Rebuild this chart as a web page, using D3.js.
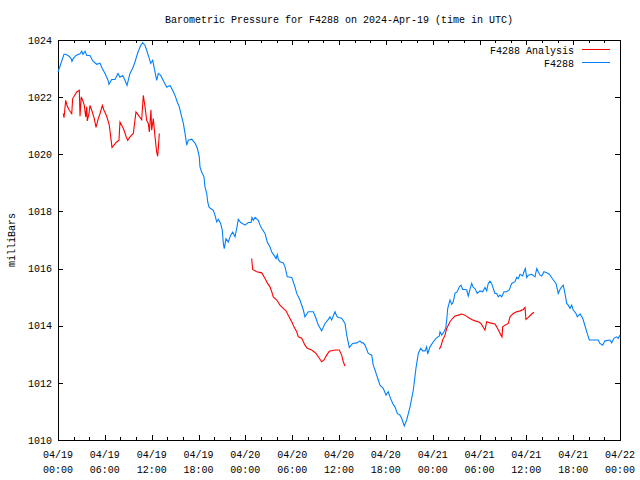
<!DOCTYPE html>
<html><head><meta charset="utf-8">
<script src="https://cdn.jsdelivr.net/npm/d3@7"></script>
<style>
body{margin:0;background:#fff;}
svg{display:block;}
text{font-family:"Liberation Mono","DejaVu Sans Mono",monospace;font-size:10px;fill:#000;}
</style></head>
<body>
<script>
// ---- data (hours after 2024-04-19 00:00 UTC, pressure in mb) ----
const titleText = "Barometric Pressure for F4288 on 2024-Apr-19 (time in UTC)";
const yLabel = "milliBars";
const seriesNames = ["F4288 Analysis", "F4288"];
const yTicks = [1010, 1012, 1014, 1016, 1018, 1020, 1022, 1024];

const stationHours = [0.0,0.77,1.02,1.41,1.67,1.79,1.96,2.31,2.82,3.04,3.20,3.46,3.68,4.10,4.48,4.96,5.38,5.60,6.02,6.41,6.53,6.88,7.30,7.69,7.94,8.29,8.58,8.84,9.22,9.57,9.86,10.25,10.59,10.85,11.15,11.36,11.70,11.88,12.13,12.43,12.64,12.85,13.16,13.58,13.93,14.35,14.69,14.99,15.28,15.54,15.85,16.05,16.27,16.49,16.69,17.13,17.55,17.85,18.10,18.19,18.41,18.70,18.83,19.05,19.18,19.34,19.56,19.90,20.11,20.33,20.54,20.84,21.05,21.18,21.30,21.52,21.82,22.12,22.38,22.68,22.89,23.10,23.41,23.96,24.38,24.73,24.85,25.02,25.24,25.66,25.88,26.10,26.52,26.81,27.16,27.38,27.67,27.93,28.09,28.22,28.44,28.86,29.08,29.38,29.94,30.14,30.36,30.58,31.00,31.43,31.64,32.07,32.71,33.05,33.35,33.78,34.21,34.63,34.85,35.06,35.49,35.70,35.91,36.34,36.77,36.99,37.32,37.75,38.27,38.69,38.91,39.11,39.33,39.75,40.19,40.39,40.61,40.83,41.03,41.25,41.67,42.02,42.31,42.53,42.88,43.17,43.47,43.81,44.03,44.36,44.67,45.10,45.52,45.86,46.16,46.47,46.72,47.02,47.23,47.36,47.66,48.08,48.43,48.85,48.94,49.16,49.45,49.67,49.80,49.93,50.22,50.44,50.64,50.86,51.15,51.41,51.63,51.84,52.14,52.36,52.56,52.78,53.00,53.20,53.42,53.71,54.06,54.41,54.70,54.92,55.12,55.34,55.56,55.77,55.98,56.20,56.41,56.62,56.84,57.14,57.48,57.82,58.12,58.55,58.76,58.97,59.19,59.53,59.70,59.87,60.05,60.25,60.69,61.11,61.33,61.53,61.75,61.97,62.26,62.61,62.94,63.46,63.80,64.09,64.31,64.53,64.73,64.95,65.17,65.37,65.59,65.81,66.01,66.36,66.53,66.88,67.22,67.52,67.73,68.07,68.37,69.22,69.43,69.78,70.07,70.71,70.93,71.22,71.57,71.77,72.00];
const stationPressure = [1022.88,1023.50,1023.50,1023.43,1023.36,1023.25,1023.36,1023.46,1023.52,1023.61,1023.50,1023.61,1023.46,1023.46,1023.26,1023.15,1023.19,1023.05,1022.83,1022.59,1022.45,1022.62,1022.62,1022.83,1022.70,1022.76,1022.59,1022.41,1022.83,1023.01,1023.23,1023.58,1023.81,1023.91,1023.81,1023.64,1023.35,1023.18,1023.29,1022.88,1022.59,1022.83,1022.76,1022.53,1022.35,1022.41,1022.24,1022.06,1021.83,1021.66,1021.31,1021.09,1020.74,1020.32,1020.49,1020.53,1020.39,1020.21,1019.91,1019.56,1019.38,1019.21,1018.86,1018.63,1018.33,1018.16,1018.10,1018.04,1017.87,1017.63,1017.72,1017.58,1017.34,1016.88,1016.70,1017.05,1016.93,1017.17,1017.28,1017.11,1017.40,1017.72,1017.61,1017.52,1017.61,1017.61,1017.79,1017.69,1017.79,1017.69,1017.52,1017.40,1017.23,1016.93,1016.76,1016.58,1016.47,1016.35,1016.49,1016.32,1016.24,1016.20,1016.06,1015.71,1015.69,1015.54,1015.36,1015.13,1014.90,1014.55,1014.31,1014.49,1014.49,1014.26,1014.02,1013.82,1014.08,1014.22,1014.31,1014.20,1014.49,1014.34,1014.29,1014.26,1014.08,1013.67,1013.24,1013.38,1013.40,1013.47,1013.40,1013.40,1013.32,1013.03,1012.97,1012.62,1012.45,1012.27,1012.10,1011.92,1011.81,1011.57,1011.69,1011.51,1011.28,1011.16,1010.93,1010.87,1010.76,1010.49,1010.70,1011.16,1011.75,1012.51,1013.03,1013.21,1013.12,1013.12,1013.26,1013.01,1013.26,1013.44,1013.56,1013.64,1013.79,1013.67,1013.79,1013.91,1014.20,1014.61,1014.90,1014.75,1014.84,1015.13,1015.19,1015.36,1015.42,1015.27,1015.27,1015.25,1015.04,1015.27,1015.48,1015.34,1015.30,1015.13,1015.22,1015.19,1015.34,1015.22,1015.48,1015.56,1015.48,1015.30,1015.13,1015.13,1015.01,1015.07,1015.01,1015.19,1015.19,1015.25,1015.48,1015.54,1015.69,1015.65,1015.80,1015.74,1015.89,1016.00,1015.69,1015.77,1015.80,1015.71,1016.00,1015.89,1015.77,1015.74,1015.89,1015.85,1015.80,1015.60,1015.48,1015.13,1015.27,1015.36,1015.42,1015.13,1014.78,1014.72,1014.61,1014.72,1014.55,1014.43,1014.31,1014.41,1014.26,1013.99,1013.79,1013.50,1013.50,1013.50,1013.38,1013.32,1013.47,1013.50,1013.40,1013.56,1013.61,1013.56,1013.67];

// analysis: null marks a gap between runs
const analysisHours = [0.68,0.77,0.99,1.19,1.45,1.76,1.88,2.09,2.40,2.73,2.82,2.98,3.16,3.37,3.55,3.68,3.75,3.97,4.10,4.32,4.65,4.87,5.16,5.38,5.68,5.89,6.24,6.57,6.75,6.92,7.17,7.52,7.81,7.94,8.16,8.46,8.71,8.93,9.22,9.65,9.99,10.29,10.72,10.93,11.15,11.36,11.57,11.70,11.91,12.00,12.21,12.43,12.64,12.77,12.85,12.98,
  null,
  24.81,24.94,25.46,26.10,26.52,26.81,27.16,27.38,27.58,28.02,28.44,28.86,29.21,29.50,29.94,30.23,30.58,30.79,31.22,31.64,31.94,32.50,33.05,33.48,33.78,34.08,34.42,34.76,35.49,36.04,36.34,36.55,36.77,
  null,
  48.85,49.03,49.28,49.58,49.80,50.00,50.22,50.56,50.86,51.28,51.72,52.14,52.56,53.00,53.42,53.85,54.19,54.49,54.70,54.92,55.34,55.98,56.20,56.53,56.75,56.88,56.97,57.27,57.69,57.91,58.33,58.76,59.19,59.61,59.83,59.95,60.25,60.69,60.98];
const analysisPressure = [1021.42,1021.28,1021.89,1021.68,1021.54,1021.42,1021.95,1022.04,1022.18,1022.24,1021.33,1022.01,1021.89,1021.71,1021.31,1021.66,1021.17,1021.42,1021.71,1021.54,1021.25,1020.94,1021.25,1021.42,1021.71,1021.54,1021.33,1021.02,1020.61,1020.24,1020.32,1020.43,1020.49,1021.13,1021.02,1020.84,1020.63,1020.49,1020.61,1020.73,1021.48,1021.37,1021.21,1022.06,1021.66,1021.19,1021.08,1020.78,1021.56,1020.84,1021.25,1020.61,1020.08,1019.93,1020.20,1020.73,
  null,
  1016.35,1015.97,1015.89,1015.85,1015.65,1015.50,1015.36,1015.19,1015.01,1014.90,1014.72,1014.61,1014.52,1014.37,1014.14,1013.96,1013.79,1013.61,1013.56,1013.32,1013.21,1013.15,1013.03,1012.86,1012.74,1012.80,1012.97,1013.11,1013.15,1013.15,1012.97,1012.74,1012.59,
  null,
  1013.18,1013.26,1013.50,1013.67,1013.91,1014.02,1014.14,1014.26,1014.34,1014.37,1014.41,1014.37,1014.29,1014.22,1014.17,1014.14,1014.08,1013.94,1013.85,1014.14,1014.10,1014.06,1013.96,1013.79,1013.67,1013.61,1013.96,1014.02,1014.08,1014.31,1014.43,1014.49,1014.52,1014.57,1014.64,1014.22,1014.29,1014.41,1014.47];

const colors = ["#ff0000", "#0080ff"];

// ---- chart ----
const W = 640, H = 480;
const L = 58, R = 620, T = 40, B = 440;
const t0 = Date.UTC(2024, 3, 19, 0, 0);
const hr = 3600 * 1000;
const toDate = h => new Date(t0 + h * hr);

const svg = d3.select("body").append("svg").attr("width", W).attr("height", H);

const x = d3.scaleUtc().domain([toDate(0), toDate(72)]).range([L, R]);
const y = d3.scaleLinear().domain([1010, 1024]).range([B, T]);

const majorX = d3.range(0, 73, 6).map(toDate);
const minorX = d3.range(0, 73, 2).filter(h => h % 6 !== 0).map(toDate);

function styleAxis(g) {
  g.select(".domain").remove();
  g.selectAll("line").attr("stroke", "#000").attr("shape-rendering", "crispEdges");
}

// bottom
svg.append("g").attr("transform", `translate(0,${B})`)
  .call(d3.axisBottom(x).tickValues(majorX).tickSize(-5).tickFormat(""))
  .call(styleAxis);
svg.append("g").attr("transform", `translate(0,${B})`)
  .call(d3.axisBottom(x).tickValues(minorX).tickSize(-3).tickFormat(""))
  .call(styleAxis);
// top
svg.append("g").attr("transform", `translate(0,${T})`)
  .call(d3.axisTop(x).tickValues(majorX).tickSize(-5).tickFormat(""))
  .call(styleAxis);
svg.append("g").attr("transform", `translate(0,${T})`)
  .call(d3.axisTop(x).tickValues(minorX).tickSize(-3).tickFormat(""))
  .call(styleAxis);
// left
svg.append("g").attr("transform", `translate(${L},0)`)
  .call(d3.axisLeft(y).tickValues(yTicks).tickSize(-5).tickPadding(6).tickFormat(d3.format("d")))
  .call(styleAxis);
// right
svg.append("g").attr("transform", `translate(${R},0)`)
  .call(d3.axisRight(y).tickValues(yTicks).tickSize(-5).tickFormat(""))
  .call(styleAxis);
svg.selectAll("g").attr("font-size", null).attr("font-family", null);

// x tick labels (two lines)
const fmtDay = d3.utcFormat("%m/%d"), fmtTime = d3.utcFormat("%H:%M");
const xl = svg.append("g");
majorX.forEach(d => {
  xl.append("text").attr("x", x(d)).attr("y", 458).attr("text-anchor", "middle").text(fmtDay(d));
  xl.append("text").attr("x", x(d)).attr("y", 473).attr("text-anchor", "middle").text(fmtTime(d));
});

// frame
svg.append("rect").attr("x", L).attr("y", T).attr("width", R - L).attr("height", B - T)
  .attr("fill", "none").attr("stroke", "#000").attr("shape-rendering", "crispEdges");

// lines
const stationData = stationHours.map((h, i) => ({ t: toDate(h), v: stationPressure[i] }));
const analysisData = analysisHours.map((h, i) => ({ t: h == null ? null : toDate(h), v: analysisPressure[i] }));
const line = d3.line().defined(d => d.t != null && d.v != null).x(d => x(d.t)).y(d => y(d.v));

svg.append("path").datum(analysisData).attr("d", line)
  .attr("fill", "none").attr("stroke", colors[0]).attr("stroke-width", 1.1);
svg.append("path").datum(stationData).attr("d", line)
  .attr("fill", "none").attr("stroke", colors[1]).attr("stroke-width", 1.1);

// title
svg.append("text").attr("x", (L + R) / 2).attr("y", 23).attr("text-anchor", "middle").text(titleText);

// y label
svg.append("text").attr("transform", "translate(15,240) rotate(-90)").attr("text-anchor", "middle").text(yLabel);

// legend
seriesNames.forEach((name, i) => {
  const ly = 50 + i * 13;
  svg.append("text").attr("x", 574).attr("y", ly).attr("dy", "0.35em").attr("text-anchor", "end").text(name);
  svg.append("line").attr("x1", 582).attr("x2", 610).attr("y1", ly - 0.5).attr("y2", ly - 0.5)
    .attr("stroke", colors[i]).attr("stroke-width", 1);
});
</script>
</body></html>
